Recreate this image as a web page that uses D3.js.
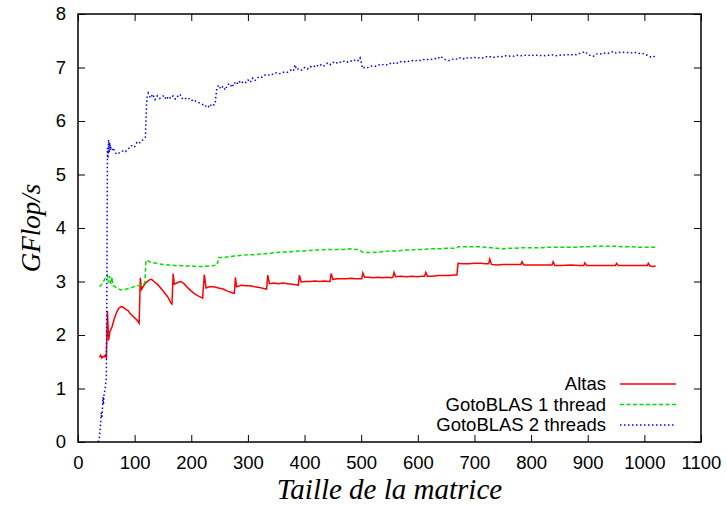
<!DOCTYPE html>
<html>
<head>
<meta charset="utf-8">
<script src="https://cdn.jsdelivr.net/npm/d3@7"></script>
<style>
  body { margin: 0; background: #fff; }
  svg { display: block; }
  .tick text { font-family: "Liberation Sans", Arial, sans-serif; font-size: 18.5px; fill: #000; }
</style>
</head>
<body>
<script>
// Atlas (red, solid)
const atlasSize = [38,40,42,44,46,48,50,52,54,56,60,64,68,72,76,80,84,88,92,96,100,104,108,110,112,116,120,126,130,134,140,146,152,158,164,166,168,170,176,182,188,194,200,206,212,220,223,226,232,240,248,256,264,272,276,278,280,288,296,304,312,320,328,333,335,338,346,354,362,370,378,386,389,391,394,402,410,418,426,434,442,445,447,450,458,466,474,482,490,498,501,503,506,514,522,530,538,546,554,556,558,561,570,580,590,600,606,612,614,617,626,636,646,656,664,669,671,680,690,700,710,720,725,727,730,740,750,760,770,782,784,787,800,815,830,837,839,842,855,870,885,893,895,898,910,925,940,949,951,954,970,985,1000,1005,1007,1010,1015,1020];
const atlasGflops = [1.58,1.62,1.57,1.6,1.59,1.62,1.58,2.45,1.9,2.05,2.15,2.3,2.42,2.5,2.53,2.52,2.48,2.46,2.4,2.36,2.32,2.28,2.22,3.07,2.85,2.92,2.98,3.03,3.04,3.0,2.95,2.88,2.8,2.72,2.6,2.58,3.15,2.95,2.98,3.0,2.95,2.88,2.82,2.77,2.73,2.69,3.13,2.88,2.9,2.9,2.88,2.86,2.82,2.79,2.78,3.08,2.9,2.93,2.92,2.92,2.9,2.89,2.87,2.86,3.12,2.96,2.97,2.96,2.97,2.96,2.95,2.94,2.93,3.12,2.99,3.0,3.0,3.01,3.0,3.01,3.0,3.0,3.15,3.04,3.05,3.05,3.05,3.06,3.05,3.05,3.05,3.16,3.08,3.08,3.07,3.08,3.07,3.08,3.07,3.08,3.17,3.09,3.1,3.09,3.1,3.09,3.1,3.1,3.17,3.1,3.1,3.11,3.11,3.11,3.12,3.12,3.34,3.33,3.33,3.34,3.34,3.33,3.33,3.42,3.32,3.31,3.32,3.32,3.32,3.32,3.37,3.31,3.31,3.31,3.31,3.31,3.37,3.3,3.3,3.31,3.3,3.3,3.35,3.3,3.3,3.3,3.3,3.3,3.34,3.3,3.3,3.3,3.3,3.3,3.34,3.29,3.28,3.29];

// GotoBLAS 1 thread (green, dashed)
const goto1Size = [38,42,46,50,52,54,56,58,60,62,66,70,76,82,90,98,106,112,118,120,126,134,142,150,160,170,180,190,200,210,220,230,240,246,248,256,264,272,280,290,300,310,320,330,340,350,360,370,380,390,400,410,420,430,440,450,460,470,480,490,496,502,510,520,530,540,550,560,570,580,590,600,610,620,630,640,650,660,668,672,680,690,700,710,720,730,740,750,760,770,780,790,800,810,820,830,840,850,860,870,880,890,900,910,920,930,940,950,960,970,980,990,1000,1010,1020];
const goto1Gflops = [2.9,2.95,3.02,3.1,3.12,2.98,3.1,2.95,3.08,2.92,2.9,2.87,2.84,2.85,2.87,2.9,2.92,2.94,2.97,3.4,3.37,3.35,3.33,3.32,3.31,3.3,3.3,3.29,3.29,3.28,3.28,3.29,3.3,3.31,3.45,3.45,3.46,3.47,3.48,3.49,3.5,3.5,3.51,3.52,3.53,3.54,3.55,3.55,3.56,3.57,3.57,3.58,3.59,3.59,3.6,3.6,3.6,3.6,3.61,3.6,3.6,3.55,3.54,3.54,3.55,3.56,3.57,3.57,3.58,3.59,3.59,3.6,3.6,3.61,3.61,3.61,3.62,3.62,3.62,3.65,3.65,3.65,3.65,3.65,3.64,3.63,3.62,3.61,3.62,3.62,3.63,3.63,3.63,3.63,3.63,3.64,3.64,3.64,3.64,3.64,3.64,3.65,3.65,3.66,3.66,3.66,3.66,3.66,3.65,3.65,3.65,3.64,3.64,3.64,3.64];

// GotoBLAS 2 threads (blue, dotted)
const goto2Size = [36,38,40,41,42,43,44,45,46,48,50,51,52,53,54,55,56,57,58,60,62,65,68,72,76,80,84,88,92,96,100,104,108,112,116,119,120,121,122,124,128,132,136,140,144,148,152,156,160,164,168,172,176,180,184,188,192,196,200,204,208,212,216,220,224,228,232,236,240,242,245,248,252,256,260,264,268,272,276,280,284,288,292,296,300,304,308,312,316,320,325,330,335,340,345,350,355,360,365,370,375,380,383,386,390,395,400,405,410,415,420,425,430,435,440,445,450,455,460,465,470,475,480,485,490,495,498,500,503,506,510,515,520,525,530,535,540,545,550,555,560,565,570,575,580,585,590,595,600,605,610,615,620,625,630,635,640,645,650,655,660,665,670,675,680,685,690,695,700,705,710,715,720,725,730,735,740,745,750,755,760,765,770,775,780,785,790,795,800,805,810,815,820,825,830,835,840,845,850,855,860,865,870,875,880,885,890,895,900,905,910,915,920,925,930,935,940,945,950,955,960,965,970,975,980,985,990,995,1000,1005,1010,1015,1020];
const goto2Gflops = [0.0,0.1,0.35,0.55,0.45,0.6,0.84,0.7,0.9,1.0,1.2,3.0,5.5,5.3,5.65,5.4,5.6,5.45,5.5,5.45,5.5,5.42,5.38,5.4,5.42,5.45,5.43,5.48,5.5,5.55,5.52,5.6,5.58,5.63,5.66,5.7,6.0,6.3,6.45,6.52,6.43,6.5,6.4,6.47,6.42,6.45,6.48,6.4,6.46,6.42,6.47,6.41,6.46,6.5,6.42,6.44,6.4,6.42,6.38,6.4,6.37,6.35,6.33,6.31,6.27,6.3,6.25,6.32,6.3,6.32,6.6,6.67,6.6,6.65,6.58,6.68,6.7,6.63,6.72,6.68,6.75,6.7,6.74,6.72,6.77,6.72,6.8,6.75,6.8,6.83,6.82,6.86,6.85,6.88,6.87,6.9,6.88,6.9,6.92,6.91,6.95,6.93,7.05,6.96,6.98,6.95,7.0,6.97,7.02,7.0,7.05,7.02,7.06,7.03,7.08,7.05,7.1,7.07,7.11,7.09,7.12,7.1,7.13,7.11,7.15,7.13,7.18,7.1,6.98,7.0,6.99,7.02,7.03,7.02,7.05,7.04,7.06,7.05,7.08,7.06,7.1,7.08,7.11,7.1,7.12,7.11,7.13,7.12,7.14,7.13,7.15,7.14,7.16,7.15,7.17,7.16,7.21,7.17,7.14,7.13,7.15,7.17,7.15,7.18,7.16,7.19,7.17,7.18,7.19,7.17,7.19,7.18,7.2,7.19,7.21,7.19,7.2,7.21,7.2,7.22,7.21,7.22,7.21,7.23,7.22,7.22,7.23,7.22,7.24,7.22,7.23,7.22,7.23,7.22,7.23,7.23,7.24,7.22,7.23,7.24,7.23,7.24,7.23,7.25,7.24,7.26,7.27,7.3,7.25,7.22,7.21,7.25,7.26,7.25,7.27,7.26,7.28,7.3,7.27,7.28,7.29,7.28,7.28,7.28,7.27,7.28,7.26,7.27,7.25,7.23,7.2,7.19,7.23];

const seriesNames = ["Altas", "GotoBLAS 1 thread", "GotoBLAS 2 threads"];
const seriesColors = ["#ff0000", "#00e000", "#0000ff"];
const seriesDash = [null, "4,2.5", "1.5,2.5"];
const xTicks = [0,100,200,300,400,500,600,700,800,900,1000,1100];
const yTicks = [0,1,2,3,4,5,6,7,8];

const W = 727, H = 506;
const margin = {left: 78, right: 26, top: 14, bottom: 64};

const svg = d3.select("body").append("svg").attr("width", W).attr("height", H);

const x = d3.scaleLinear().domain([0, 1100]).range([margin.left, W - margin.right]);
const y = d3.scaleLinear().domain([0, 8]).range([H - margin.bottom, margin.top]);

// axes, ticks pointing inwards, mirrored on top/right
svg.append("g").attr("transform", `translate(0,${y(0)})`)
  .call(d3.axisBottom(x).tickValues(xTicks).tickSize(-7).tickPadding(14).tickFormat(d3.format("d")))
  .call(g => g.select(".domain").remove());
svg.append("g").attr("transform", `translate(0,${y(8)})`)
  .call(d3.axisTop(x).tickValues(xTicks).tickSize(-7).tickFormat(""))
  .call(g => g.select(".domain").remove());
svg.append("g").attr("transform", `translate(${x(0)},0)`)
  .call(d3.axisLeft(y).tickValues(yTicks).tickSize(-7).tickPadding(12).tickFormat(d3.format("d")))
  .call(g => g.select(".domain").remove());
svg.append("g").attr("transform", `translate(${x(1100)},0)`)
  .call(d3.axisRight(y).tickValues(yTicks).tickSize(-7).tickFormat(""))
  .call(g => g.select(".domain").remove());
svg.selectAll(".tick line").attr("stroke", "#000").attr("stroke-width", 1);

const line = d3.line().x(d => x(d[0])).y(d => y(d[1]));
const series = [
  d3.zip(atlasSize, atlasGflops),
  d3.zip(goto1Size, goto1Gflops),
  d3.zip(goto2Size, goto2Gflops)
];

series.forEach((s, i) => {
  svg.append("path")
    .datum(s)
    .attr("d", line)
    .attr("fill", "none")
    .attr("stroke", seriesColors[i])
    .attr("stroke-width", 1.5)
    .attr("stroke-dasharray", seriesDash[i]);
});

// frame
svg.append("rect")
  .attr("x", x(0)).attr("y", y(8))
  .attr("width", x(1100) - x(0)).attr("height", y(0) - y(8))
  .attr("fill", "none").attr("stroke", "#000").attr("stroke-width", 1.5);

// legend
const legend = svg.append("g");
seriesNames.forEach((name, i) => {
  const ly = 384 + i * 20.5;
  legend.append("text")
    .attr("x", 606).attr("y", ly).attr("dy", "0.35em")
    .attr("text-anchor", "end")
    .style("font-family", "Liberation Sans, Arial, sans-serif")
    .style("font-size", "18.5px")
    .text(name);
  legend.append("line")
    .attr("x1", 620).attr("x2", 676).attr("y1", ly).attr("y2", ly)
    .attr("stroke", seriesColors[i]).attr("stroke-width", 1.5)
    .attr("stroke-dasharray", seriesDash[i]);
});

// axis titles
svg.append("text")
  .attr("x", (x(0) + x(1100)) / 2).attr("y", 499)
  .attr("text-anchor", "middle")
  .style("font-family", "Liberation Serif, Times New Roman, serif")
  .style("font-style", "italic").style("font-size", "29px")
  .text("Taille de la matrice");
svg.append("text")
  .attr("transform", `translate(40,${(y(0) + y(8)) / 2}) rotate(-90)`)
  .attr("text-anchor", "middle")
  .style("font-family", "Liberation Serif, Times New Roman, serif")
  .style("font-style", "italic").style("font-size", "27px")
  .text("GFlop/s");
</script>
</body>
</html>
